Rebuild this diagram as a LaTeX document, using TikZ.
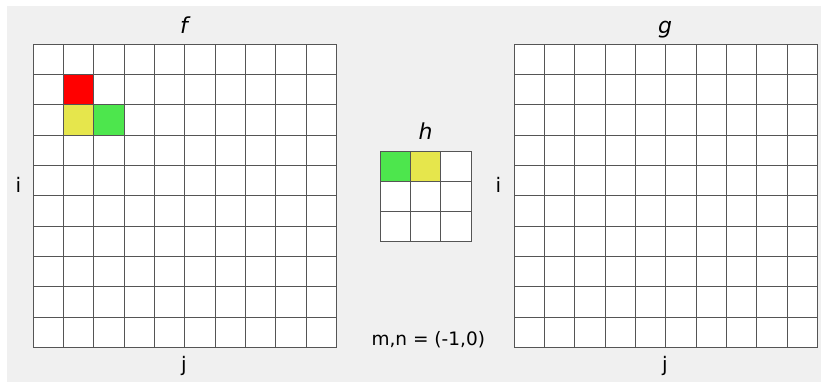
\documentclass[tikz,border=0pt]{standalone}
\usepackage{fontspec}
\setmainfont{DejaVu Sans}
\definecolor{bgc}{RGB}{240,240,240}
\definecolor{cred}{RGB}{255,0,0}
\definecolor{cyel}{RGB}{230,230,76}
\definecolor{cgrn}{RGB}{77,230,77}
\definecolor{gline}{RGB}{85,85,85}
\tikzset{
  gridline/.style={draw=gline, line width=1bp},
  lbl/.style={anchor=base, inner sep=0pt, font=\fontsize{20bp}{24bp}\selectfont},
  ttl/.style={anchor=base, inner sep=0pt, font=\fontsize{22bp}{26bp}\selectfont\itshape},
  note/.style={anchor=base, inner sep=0pt, font=\fontsize{18.5bp}{22bp}\selectfont},
}
\begin{document}
\begin{tikzpicture}[x=1bp, y=-1bp]
\useasboundingbox (0,0) rectangle (821,382);
\fill[white] (0,0) rectangle (821,382);
\fill[bgc] (7,6) rectangle (821,382);
\def\cs{30.33}
% f grid
\begin{scope}[shift={(33.3,44.3)}]
  \fill[white] (0,0) rectangle (10*\cs,10*\cs);
  \fill[cred] (\cs,\cs) rectangle (2*\cs,2*\cs);
  \fill[cyel] (\cs,2*\cs) rectangle (2*\cs,3*\cs);
  \fill[cgrn] (2*\cs,2*\cs) rectangle (3*\cs,3*\cs);
  \foreach \k in {0,...,10} {
    \draw[gridline] (\k*\cs,0) -- (\k*\cs,10*\cs);
    \draw[gridline] (0,\k*\cs) -- (10*\cs,\k*\cs);
  }
\end{scope}
% g grid
\begin{scope}[shift={(514.3,44.3)}]
  \fill[white] (0,0) rectangle (10*\cs,10*\cs);
  \foreach \k in {0,...,10} {
    \draw[gridline] (\k*\cs,0) -- (\k*\cs,10*\cs);
    \draw[gridline] (0,\k*\cs) -- (10*\cs,\k*\cs);
  }
\end{scope}
% h grid
\begin{scope}[shift={(380.3,151)}]
  \fill[white] (0,0) rectangle (3*\cs,3*\cs);
  \fill[cgrn] (0,0) rectangle (\cs,\cs);
  \fill[cyel] (\cs,0) rectangle (2*\cs,\cs);
  \foreach \k in {0,...,3} {
    \draw[gridline] (\k*\cs,0) -- (\k*\cs,3*\cs);
    \draw[gridline] (0,\k*\cs) -- (3*\cs,\k*\cs);
  }
\end{scope}
% labels
\node[ttl] (tf) at (184,33) {f};
\node[ttl] (tg) at (665,33) {g};
\node[ttl] (th) at (425.7,139) {h};
\node[lbl] (if) at (18.3,192.3) {i};
\node[lbl] (ig) at (498.3,192.3) {i};
\node[lbl] (jf) at (184,371.5) {j};
\node[lbl] (jg) at (665,371.5) {j};
\node[note] (mn) at (428.3,345) {m,n = (-1,0)};
\end{tikzpicture}
\end{document}
